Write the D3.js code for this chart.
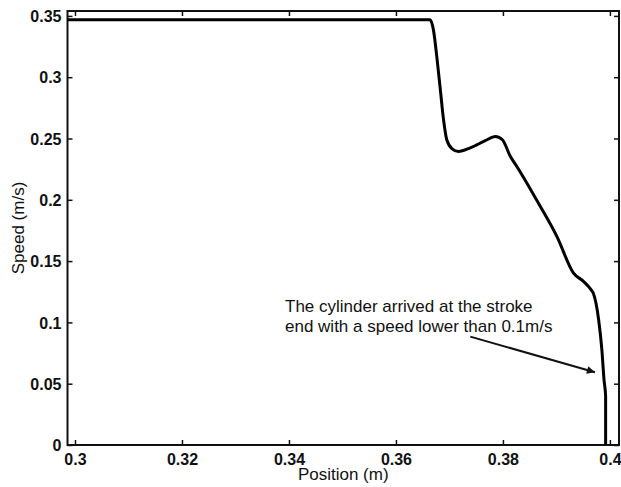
<!DOCTYPE html>
<html>
<head>
<meta charset="utf-8">
<script src="https://cdn.jsdelivr.net/npm/d3@7"></script>
<style>
  body { margin: 0; background: #fff; }
  text { font-family: "Liberation Sans", Arial, sans-serif; fill: #111; }
</style>
</head>
<body>
<div class="chart"></div>
<script>
const svgWidth = 621;
const svgHeight = 487;

const margin = { top: 11, right: 2, bottom: 42, left: 67.5 };
const width = svgWidth - margin.left - margin.right;
const height = svgHeight - margin.top - margin.bottom;

// data
const position = [0.2986, 0.3664, 0.3670, 0.3677, 0.3683, 0.3689, 0.3695, 0.3705,
  0.3717, 0.3739, 0.3767, 0.3786, 0.3799, 0.3814, 0.3826, 0.3870, 0.3901,
  0.3932, 0.3951, 0.3965, 0.3969, 0.3979, 0.3985, 0.3989, 0.3992, 0.3992];
const speed = [0.3469, 0.3469, 0.3388, 0.3143, 0.2898, 0.2653, 0.2490, 0.2416,
  0.2394, 0.2424, 0.2482, 0.2517, 0.2490, 0.2353, 0.2272, 0.1945, 0.1700,
  0.1402, 0.1333, 0.1265, 0.1238, 0.1020, 0.0776, 0.0531, 0.0400, 0];
const xTicks = [0.3, 0.32, 0.34, 0.36, 0.38, 0.4];
const yTicks = [0, 0.05, 0.1, 0.15, 0.2, 0.25, 0.3, 0.35];
const noteLines = ["The cylinder arrived at the stroke", "end with a speed lower than 0.1m/s"];
const arrowFrom = [0.3739, 0.0884];
const arrowTo = [0.3972, 0.0594];

const svg = d3.select(".chart")
  .append("svg")
  .attr("width", svgWidth)
  .attr("height", svgHeight);

const chartGroup = svg.append("g")
  .attr("transform", `translate(${margin.left}, ${margin.top})`);

const xScale = d3.scaleLinear().domain([0.2986, 0.4017]).range([0, width]);
const yScale = d3.scaleLinear().domain([0, 0.354]).range([height, 0]);

const fmt = d => d === 0 ? "0" : String(+d.toFixed(2));

// axes, ticks pointing inward, mirrored on top and right
const xBottom = chartGroup.append("g")
  .attr("transform", `translate(0, ${height})`)
  .call(d3.axisBottom(xScale).tickValues(xTicks).tickSize(-5).tickPadding(8).tickFormat(fmt));
const xTop = chartGroup.append("g")
  .call(d3.axisTop(xScale).tickValues(xTicks).tickSize(-5).tickFormat(""));
const yLeft = chartGroup.append("g")
  .call(d3.axisLeft(yScale).tickValues(yTicks).tickSize(-5).tickPadding(6).tickFormat(fmt));
const yRight = chartGroup.append("g")
  .attr("transform", `translate(${width}, 0)`)
  .call(d3.axisRight(yScale).tickValues(yTicks).tickSize(-5).tickFormat(""));

[xBottom, xTop, yLeft, yRight].forEach(g => {
  g.select(".domain").remove();
  g.selectAll(".tick line").attr("stroke", "#111").attr("stroke-width", 1.5);
  g.selectAll(".tick text")
    .attr("fill", "#111")
    .style("font-size", "16px")
    .style("font-weight", "bold")
    .style("font-family", "'Liberation Sans', Arial, sans-serif");
});
yLeft.selectAll(".tick text").attr("dy", "0.36em");
xBottom.selectAll(".tick text").attr("dy", "0.75em");

chartGroup.append("rect")
  .attr("width", width)
  .attr("height", height)
  .attr("fill", "none")
  .attr("stroke", "#111")
  .attr("stroke-width", 2);

// speed curve
const line = d3.line()
  .x((d, i) => xScale(position[i]))
  .y(d => yScale(d))
  .curve(d3.curveMonotoneX);

chartGroup.append("path")
  .attr("d", line(speed))
  .attr("fill", "none")
  .attr("stroke", "#000")
  .attr("stroke-width", 3)
  .attr("stroke-linejoin", "round");

// annotation
svg.append("defs").append("marker")
  .attr("id", "arrow")
  .attr("viewBox", "0 0 10 10")
  .attr("refX", 10).attr("refY", 5)
  .attr("markerWidth", 11).attr("markerHeight", 8)
  .attr("markerUnits", "userSpaceOnUse")
  .attr("orient", "auto")
  .append("path")
  .attr("d", "M0,0 L10,5 L0,10 z")
  .attr("fill", "#111");

chartGroup.append("line")
  .attr("x1", xScale(arrowFrom[0])).attr("y1", yScale(arrowFrom[1]))
  .attr("x2", xScale(arrowTo[0])).attr("y2", yScale(arrowTo[1]))
  .attr("stroke", "#111")
  .attr("stroke-width", 2)
  .attr("marker-end", "url(#arrow)");

chartGroup.append("text")
  .attr("x", 285 - margin.left)
  .attr("y", 311.5 - margin.top)
  .style("font-size", "17px")
  .selectAll("tspan")
  .data(noteLines)
  .enter()
  .append("tspan")
  .attr("x", 285 - margin.left)
  .attr("dy", (d, i) => i === 0 ? 0 : 20)
  .text(d => d);

// axis titles
svg.append("text")
  .attr("x", margin.left + width / 2)
  .attr("y", 480)
  .attr("text-anchor", "middle")
  .style("font-size", "17px")
  .text("Position (m)");

svg.append("text")
  .attr("transform", `translate(24, ${margin.top + height / 2}) rotate(-90)`)
  .attr("text-anchor", "middle")
  .style("font-size", "17px")
  .text("Speed (m/s)");
</script>
</body>
</html>
